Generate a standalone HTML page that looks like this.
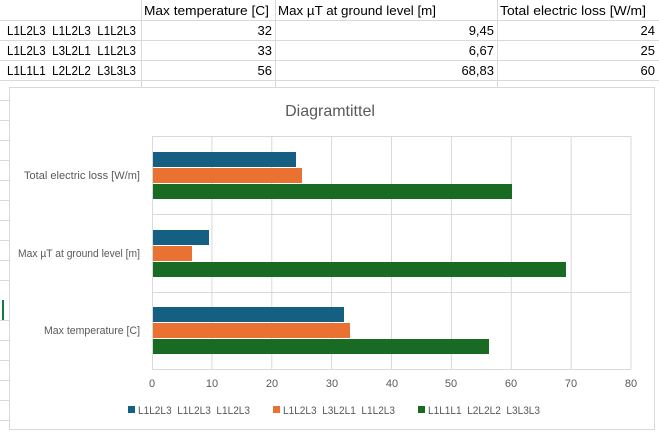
<!DOCTYPE html>
<html><head><style>
body{margin:0;width:659px;height:435px;overflow:hidden;background:#fff;font-family:"Liberation Sans",sans-serif;}
</style></head><body>
<svg width="659" height="435" xmlns="http://www.w3.org/2000/svg" font-family="Liberation Sans, sans-serif">
<g stroke="#d9d9d9" stroke-width="1">
<line x1="0" y1="20.5" x2="659" y2="20.5"/><line x1="0" y1="40.5" x2="659" y2="40.5"/><line x1="0" y1="60.5" x2="659" y2="60.5"/><line x1="0" y1="80.5" x2="659" y2="80.5"/>
<line x1="141.5" y1="0" x2="141.5" y2="87"/><line x1="275.5" y1="0" x2="275.5" y2="87"/><line x1="497.5" y1="0" x2="497.5" y2="87"/>
<line x1="0" y1="100.5" x2="9" y2="100.5"/><line x1="0" y1="120.5" x2="9" y2="120.5"/><line x1="0" y1="140.5" x2="9" y2="140.5"/><line x1="0" y1="160.5" x2="9" y2="160.5"/><line x1="0" y1="180.5" x2="9" y2="180.5"/><line x1="0" y1="200.5" x2="9" y2="200.5"/><line x1="0" y1="220.5" x2="9" y2="220.5"/><line x1="0" y1="240.5" x2="9" y2="240.5"/><line x1="0" y1="260.5" x2="9" y2="260.5"/><line x1="0" y1="280.5" x2="9" y2="280.5"/><line x1="0" y1="320.5" x2="9" y2="320.5"/><line x1="0" y1="340.5" x2="9" y2="340.5"/><line x1="0" y1="360.5" x2="9" y2="360.5"/><line x1="0" y1="380.5" x2="9" y2="380.5"/><line x1="0" y1="400.5" x2="9" y2="400.5"/><line x1="0" y1="420.5" x2="9" y2="420.5"/>
</g>
<rect x="2" y="300" width="2" height="20" fill="#107c41"/>
<g font-size="13" fill="#000" lengthAdjust="spacingAndGlyphs">
<text x="144" y="15" textLength="125" lengthAdjust="spacingAndGlyphs">Max temperature [C]</text>
<text x="278" y="15" textLength="158" lengthAdjust="spacingAndGlyphs">Max µT at ground level [m]</text>
<text x="500" y="15" textLength="146" lengthAdjust="spacingAndGlyphs">Total electric loss [W/m]</text>
<text x="7" y="35" xml:space="preserve" textLength="129" lengthAdjust="spacingAndGlyphs">L1L2L3  L1L2L3  L1L2L3</text>
<text x="7" y="55" xml:space="preserve" textLength="129" lengthAdjust="spacingAndGlyphs">L1L2L3  L3L2L1  L1L2L3</text>
<text x="7" y="75" xml:space="preserve" textLength="129" lengthAdjust="spacingAndGlyphs">L1L1L1  L2L2L2  L3L3L3</text>
<g text-anchor="end">
<text x="272" y="35">32</text><text x="494" y="35">9,45</text><text x="655" y="35">24</text>
<text x="272" y="55">33</text><text x="494" y="55">6,67</text><text x="655" y="55">25</text>
<text x="272" y="75">56</text><text x="494" y="75">68,83</text><text x="655" y="75">60</text>
</g></g>
<rect x="9.5" y="87.5" width="645" height="342" fill="#fff" stroke="#d9d9d9"/>
<text x="330" y="116" text-anchor="middle" font-size="16" fill="#595959">Diagramtittel</text>
<g stroke="#d9d9d9">
<line x1="211.9" y1="136" x2="211.9" y2="369"/><line x1="271.8" y1="136" x2="271.8" y2="369"/><line x1="331.6" y1="136" x2="331.6" y2="369"/><line x1="391.5" y1="136" x2="391.5" y2="369"/><line x1="451.4" y1="136" x2="451.4" y2="369"/><line x1="511.3" y1="136" x2="511.3" y2="369"/><line x1="571.1" y1="136" x2="571.1" y2="369"/><line x1="631" y1="136" x2="631" y2="369"/>
<line x1="152" y1="136.5" x2="631" y2="136.5"/><line x1="152" y1="214.5" x2="631" y2="214.5"/><line x1="152" y1="292.5" x2="631" y2="292.5"/><line x1="152" y1="369.5" x2="631" y2="369.5"/>
<line x1="152.5" y1="136" x2="152.5" y2="369"/>
</g>
<rect x="153" y="152" width="143" height="15" fill="#156082"/>
<rect x="153" y="168" width="149" height="15" fill="#e97132"/>
<rect x="153" y="184" width="359" height="15" fill="#196b24"/>
<rect x="153" y="230" width="56" height="15" fill="#156082"/>
<rect x="153" y="246" width="39" height="15" fill="#e97132"/>
<rect x="153" y="262" width="413" height="15" fill="#196b24"/>
<rect x="153" y="307" width="191" height="15" fill="#156082"/>
<rect x="153" y="323" width="197" height="15" fill="#e97132"/>
<rect x="153" y="339" width="336" height="15" fill="#196b24"/>
<g font-size="11" fill="#595959" text-anchor="end">
<text x="140" y="179" textLength="116" lengthAdjust="spacingAndGlyphs">Total electric loss [W/m]</text>
<text x="140" y="257" textLength="122" lengthAdjust="spacingAndGlyphs">Max µT at ground level [m]</text>
<text x="140" y="334" textLength="96" lengthAdjust="spacingAndGlyphs">Max temperature [C]</text>
</g>
<g font-size="11" fill="#595959" text-anchor="middle">
<text x="152" y="387">0</text><text x="212" y="387">10</text><text x="272" y="387">20</text><text x="332" y="387">30</text><text x="392" y="387">40</text><text x="451" y="387">50</text><text x="511" y="387">60</text><text x="571" y="387">70</text><text x="631" y="387">80</text>
</g>
<g font-size="11" fill="#595959">
<rect x="128" y="406" width="7" height="7" fill="#156082"/><text x="138" y="414" xml:space="preserve" textLength="112" lengthAdjust="spacingAndGlyphs">L1L2L3  L1L2L3  L1L2L3</text>
<rect x="273" y="406" width="7" height="7" fill="#e97132"/><text x="283" y="414" xml:space="preserve" textLength="112" lengthAdjust="spacingAndGlyphs">L1L2L3  L3L2L1  L1L2L3</text>
<rect x="418" y="406" width="7" height="7" fill="#196b24"/><text x="428" y="414" xml:space="preserve" textLength="112" lengthAdjust="spacingAndGlyphs">L1L1L1  L2L2L2  L3L3L3</text>
</g>
</svg>
</body></html>
